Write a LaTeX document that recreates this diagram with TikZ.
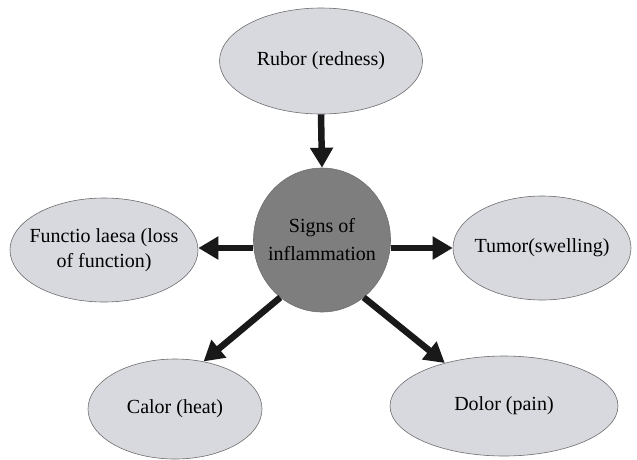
\documentclass[tikz,border=0pt]{standalone}
\usepackage{fontspec}
\setmainfont{Liberation Serif}
\usetikzlibrary{shapes.geometric,arrows.meta}
\definecolor{lightfill}{RGB}{216,217,222}
\definecolor{midfill}{RGB}{126,126,126}
\definecolor{edgecol}{RGB}{110,110,110}
\tikzset{
  sign/.style={ellipse,draw=edgecol,line width=0.6pt,fill=lightfill,inner ysep=0pt,inner xsep=-60pt,
    align=center,font=\fontsize{20}{25}\selectfont,text=black},
  hub/.style={ellipse,draw=edgecol,line width=0.6pt,fill=midfill,inner ysep=0pt,inner xsep=-60pt,
    align=center,font=\fontsize{20}{28}\selectfont,text=black},
  arr/.style={line width=6.5pt,black!90,-{Triangle[length=20pt,width=22pt]}}
}
\begin{document}
\begin{tikzpicture}[x=1pt,y=-1pt]
\useasboundingbox (0,0) rectangle (637,459);
\node[hub,minimum width=137pt,minimum height=144pt] (hub) at (322,240) {Signs of\\inflammation};
\node[sign,minimum width=203pt,minimum height=106pt] (rubor) at (321,61) {Rubor (redness)};
\node[sign,minimum width=188pt,minimum height=104pt] (functio) at (104,250) {Functio laesa (loss\\of function)};
\node[sign,minimum width=178pt,minimum height=104pt] (tumor) at (542,248) {Tumor(swelling)};
\node[sign,minimum width=174pt,minimum height=100pt] (calor) at (175,409) {Calor (heat)};
\node[sign,minimum width=228pt,minimum height=100pt] (dolor) at (504,406) {Dolor (pain)};
\draw[arr] (rubor.south) -- (hub.north);
\draw[arr] (tumor.west -| hub.west) -- (functio.east |- tumor.west);
\draw[arr] (tumor.west -| hub.east) -- (tumor.west);
\draw[arr] (hub.234) -- (calor.59);
\draw[arr] (hub.306) -- (dolor.144);
\end{tikzpicture}
\end{document}
